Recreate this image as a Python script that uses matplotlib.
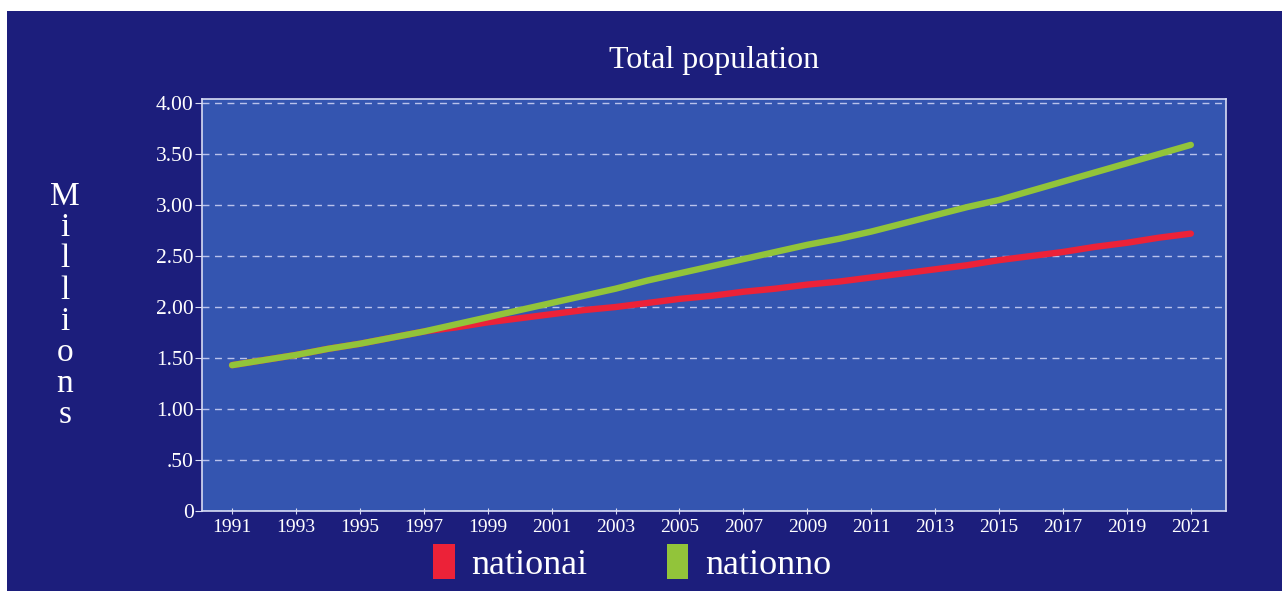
import matplotlib
matplotlib.use("Agg")
import matplotlib.pyplot as plt
from matplotlib.patches import Rectangle, Patch

years = list(range(1991, 2022))
nationai = [1.43, 1.48, 1.53, 1.59, 1.64, 1.70, 1.76, 1.80, 1.85, 1.89,
            1.93, 1.97, 2.00, 2.04, 2.08, 2.11, 2.15, 2.18, 2.22, 2.25,
            2.29, 2.33, 2.37, 2.41, 2.46, 2.50, 2.54, 2.59, 2.63, 2.68, 2.72]
nationno = [1.43, 1.48, 1.53, 1.59, 1.64, 1.70, 1.76, 1.83, 1.90, 1.97,
            2.04, 2.11, 2.18, 2.26, 2.33, 2.40, 2.47, 2.54, 2.61, 2.67,
            2.74, 2.82, 2.90, 2.98, 3.05, 3.14, 3.23, 3.32, 3.41, 3.50, 3.59]
series_names = ["nationai", "nationno"]
series_colors = ["#ec2238", "#92c43a"]
xticks = list(range(1991, 2022, 2))
yticks = [0, 0.5, 1.0, 1.5, 2.0, 2.5, 3.0, 3.5, 4.0]
ytick_labels = ["0", ".50", "1.00", "1.50", "2.00", "2.50", "3.00", "3.50", "4.00"]

W, H = 1286, 591
fig = plt.figure(figsize=(W / 100, H / 100), dpi=100, facecolor="white")
serif = ["Liberation Serif", "DejaVu Serif"]

# navy background panel
fig.patches.append(Rectangle((7 / W, 0), (1282 - 7) / W, (591 - 11) / H,
                             transform=fig.transFigure, facecolor="#1c1e7c",
                             edgecolor="none", zorder=-10))

ax = fig.add_axes([202 / W, 1 - 511 / H, (1226 - 202) / W, (511 - 99) / H], zorder=2)
ax.set_facecolor("#3455b0")
ax.plot(years, nationai, color=series_colors[0], lw=4.6, solid_capstyle="round", zorder=3)
ax.plot(years, nationno, color=series_colors[1], lw=4.6, solid_capstyle="round", zorder=4)

ax.set_xlim(1990.06, 2022.1)
ax.set_ylim(0, 4.04)
ax.set_xticks(xticks)
ax.set_xticklabels([str(x) for x in xticks], family=serif, fontsize=14, color="white")
ax.set_yticks(yticks)
ax.set_yticklabels(ytick_labels, family=serif, fontsize=15.5, color="white")
ax.tick_params(axis="y", direction="out", length=5, color="#d8dcf4", pad=1)
ax.tick_params(axis="x", direction="inout", length=5, color="#d8dcf4", pad=3)
ax.grid(axis="y", color="#b9c2ec", linestyle=(0, (5, 4)), linewidth=1.0, zorder=1)
for sp in ax.spines.values():
    sp.set_color("#d8dcf4")
    sp.set_linewidth(1.2)

ax.set_title("Total population", family=serif, fontsize=23, color="white", pad=22)

fig.text(65 / W, 1 - 306 / H, "M\ni\nl\nl\ni\no\nn\ns", family=serif, fontsize=24,
         color="white", ha="center", va="center", linespacing=1.03)

handles = [Patch(facecolor=c, edgecolor="none") for c in series_colors]
fig.legend(handles, series_names, loc="center", bbox_to_anchor=(632 / W, 1 - 563 / H),
           ncol=2, frameon=False, prop={"family": serif, "size": 26},
           labelcolor="white", handlelength=0.6, handleheight=1.1,
           handletextpad=0.45, columnspacing=2.2)

fig.savefig("out.png", dpi=100, facecolor="white")
